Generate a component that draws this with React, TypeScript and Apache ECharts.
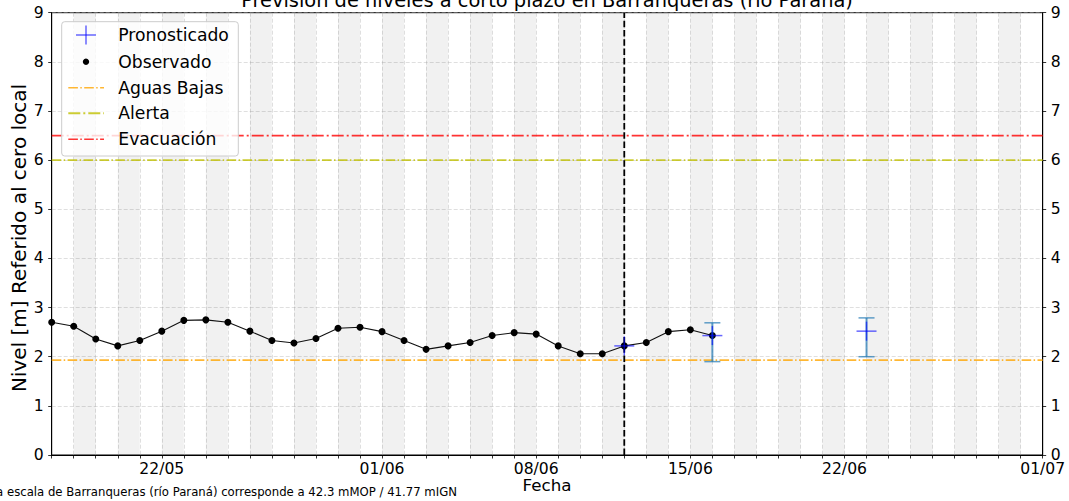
import React, { useEffect, useRef } from "react";
import * as echarts from "echarts";

const DAY = 86400000;
const YEAR = 2025;
const parseDate = (s: string): number => {
  const [d, m] = s.split("/").map(Number);
  return Date.UTC(YEAR, m - 1, d);
};
const fmtDate = (v: number): string => {
  const dt = new Date(v);
  const d = String(dt.getUTCDate()).padStart(2, "0");
  const m = String(dt.getUTCMonth() + 1).padStart(2, "0");
  return `${d}/${m}`;
};

// ---- data ----
const axisStart = "17/05";
const axisEnd = "01/07";
const xTickLabels = ["22/05", "01/06", "08/06", "15/06", "22/06", "01/07"];
const yTicks = [0, 1, 2, 3, 4, 5, 6, 7, 8, 9];

const observedDates = [
  "17/05", "18/05", "19/05", "20/05", "21/05", "22/05", "23/05", "24/05", "25/05", "26/05",
  "27/05", "28/05", "29/05", "30/05", "31/05", "01/06", "02/06", "03/06", "04/06", "05/06",
  "06/06", "07/06", "08/06", "09/06", "10/06", "11/06", "12/06", "13/06", "14/06", "15/06",
  "16/06",
];
const observedLevels = [
  2.70, 2.62, 2.36, 2.22, 2.33, 2.52, 2.74, 2.75, 2.70, 2.52,
  2.33, 2.28, 2.37, 2.58, 2.60, 2.51, 2.33, 2.15, 2.22, 2.29,
  2.43, 2.49, 2.46, 2.22, 2.06, 2.06, 2.22, 2.29, 2.51, 2.55,
  2.43,
];

const forecastDates = ["12/06", "16/06", "23/06"];
const forecastLevels = [2.22, 2.43, 2.52];
const forecastLow = [2.22, 1.90, 2.00];
const forecastHigh = [2.22, 2.69, 2.79];

const forecastIssueDate = "12/06";
const aguasBajas = 1.93;
const alerta = 6.0;
const evacuacion = 6.5;

const titleText = "Previsión de niveles a corto plazo en Barranqueras (río Paraná)";
const yAxisTitle = "Nivel [m] Referido al cero local";
const xAxisTitle = "Fecha";
const footnote = "El cero de la escala de Barranqueras (río Paraná) corresponde a 42.3 mMOP / 41.77 mIGN";
const legendItems = ["Pronosticado", "Observado", "Aguas Bajas", "Alerta", "Evacuación"];

// ---- styles ----
const FONT = "DejaVu Sans";
const C_ORANGE = "rgba(255,165,0,0.8)";
const C_YELLOW = "rgba(191,191,0,0.8)";
const C_RED = "rgba(255,0,0,0.8)";
const C_ERR = "rgba(31,119,180,0.7)";
const C_CROSS = "rgba(0,0,255,0.6)";
const DASHDOT = [9.6, 2.4, 1.5, 2.4];
const DASHDOT2 = [12, 3, 2, 3];

export default function App() {
  const ref = useRef<HTMLDivElement>(null);

  useEffect(() => {
    document.body.style.margin = "0";
    if (!ref.current) return;
    const chart = echarts.init(ref.current, undefined, { renderer: "svg" });

    const xMin = parseDate(axisStart);
    const xMax = parseDate(axisEnd);
    const nDays = Math.round((xMax - xMin) / DAY);
    const bandStarts: number[][] = [];
    for (let d = 1; d < nDays; d += 2) bandStarts.push([xMin + d * DAY, 0]);

    const hLine = (name: string, v: number, color: string, width: number, type: number[]) => ({
      name,
      type: "line",
      data: [[xMin, v], [xMax, v]],
      symbol: "none",
      silent: true,
      z: 3,
      lineStyle: { color, width, type },
    });

    const issue = parseDate(forecastIssueDate);

    // legend graphic
    const lgX = 61.7, lgY = 21.7, lgW = 176.6, lgH = 134.3;
    const rowY = [35, 61.7, 87.7, 113.3, 139.3];
    const iconC = 86, iconL = 68.3, iconR = 104;
    const legendGraphics: any[] = [
      {
        type: "rect",
        shape: { x: lgX, y: lgY, width: lgW, height: lgH, r: 3 },
        style: { fill: "rgba(255,255,255,0.8)", stroke: "#cccccc", lineWidth: 1 },
        z: 100,
      },
      { type: "line", shape: { x1: iconC - 10, y1: rowY[0], x2: iconC + 10, y2: rowY[0] }, style: { stroke: C_CROSS, lineWidth: 1.5 }, z: 101 },
      { type: "line", shape: { x1: iconC, y1: rowY[0] - 9.5, x2: iconC, y2: rowY[0] + 9.5 }, style: { stroke: C_CROSS, lineWidth: 1.5 }, z: 101 },
      { type: "circle", shape: { cx: iconC, cy: rowY[1], r: 3.2 }, style: { fill: "#000" }, z: 101 },
      { type: "line", shape: { x1: iconL, y1: rowY[2], x2: iconR, y2: rowY[2] }, style: { stroke: C_ORANGE, lineWidth: 1.5, lineDash: DASHDOT }, z: 101 },
      { type: "line", shape: { x1: iconL, y1: rowY[3], x2: iconR, y2: rowY[3] }, style: { stroke: C_YELLOW, lineWidth: 2, lineDash: DASHDOT2 }, z: 101 },
      { type: "line", shape: { x1: iconL, y1: rowY[4], x2: iconR, y2: rowY[4] }, style: { stroke: C_RED, lineWidth: 1.5, lineDash: DASHDOT }, z: 101 },
      ...legendItems.map((t, i) => ({
        type: "text",
        x: 118.3,
        y: rowY[i],
        style: { text: t, fontFamily: FONT, fontSize: 17.2, fill: "#000", textAlign: "left", textVerticalAlign: "middle" },
        z: 101,
      })),
    ];

    const option: any = {
      animation: false,
      textStyle: { fontFamily: FONT },
      grid: {
        left: 51.7,
        right: 26.3,
        top: 12.7,
        bottom: 46,
        show: true,
        borderColor: "#000",
        borderWidth: 1,
        backgroundColor: "transparent",
        containLabel: false,
      },
      xAxis: {
        type: "value",
        min: xMin,
        max: xMax,
        interval: DAY,
        axisLine: { show: true, onZero: false, lineStyle: { color: "#000", width: 1 } },
        axisTick: { show: true, length: 3.5, lineStyle: { color: "#000", width: 0.8 } },
        axisLabel: {
          show: true,
          showMinLabel: true,
          showMaxLabel: true,
          margin: 6,
          fontSize: 15.6,
          fontFamily: FONT,
          color: "#000",
          formatter: (v: number) => {
            const s = fmtDate(v);
            return xTickLabels.includes(s) ? s : "";
          },
        },
        splitLine: { show: true, lineStyle: { color: "rgba(176,176,176,0.5)", width: 0.8, type: [4, 2] } },
      },
      yAxis: [
        {
          type: "value",
          position: "left",
          min: yTicks[0],
          max: yTicks[yTicks.length - 1],
          interval: 1,
          axisLine: { show: true, lineStyle: { color: "#000", width: 1 } },
          axisTick: { show: true, length: 3.5, lineStyle: { color: "#000", width: 0.8 } },
          axisLabel: { margin: 8, fontSize: 15.6, fontFamily: FONT, color: "#000" },
          splitLine: { show: true, lineStyle: { color: "rgba(176,176,176,0.5)", width: 0.8, type: [4, 2] } },
        },
        {
          type: "value",
          position: "right",
          min: yTicks[0],
          max: yTicks[yTicks.length - 1],
          interval: 1,
          axisLine: { show: true, lineStyle: { color: "#000", width: 1 } },
          axisTick: { show: true, length: 3.5, lineStyle: { color: "#000", width: 0.8 } },
          axisLabel: { margin: 8, fontSize: 15.6, fontFamily: FONT, color: "#000" },
          splitLine: { show: false },
        },
      ],
      series: [
        {
          name: "bands",
          type: "custom",
          silent: true,
          z: 1,
          data: bandStarts,
          encode: { x: 0, y: 1 },
          renderItem: (params: any, api: any) => {
            const s = api.value(0);
            const p1 = api.coord([s, 9]);
            const p2 = api.coord([s + DAY, 0]);
            return {
              type: "rect",
              shape: { x: p1[0], y: p1[1], width: p2[0] - p1[0], height: p2[1] - p1[1] },
              style: { fill: "rgba(0,0,0,0.055)" },
            };
          },
        },
        hLine("Aguas Bajas", aguasBajas, C_ORANGE, 1.8, DASHDOT),
        hLine("Alerta", alerta, C_YELLOW, 1.8, DASHDOT),
        hLine("Evacuación", evacuacion, C_RED, 1.8, DASHDOT2),
        {
          name: "issue",
          type: "line",
          data: [[issue, 0], [issue, 9]],
          symbol: "none",
          silent: true,
          z: 4,
          lineStyle: { color: "#000", width: 1.8, type: [6.5, 2.8] },
        },
        {
          name: "Observado",
          type: "line",
          data: observedDates.map((d, i) => [parseDate(d), observedLevels[i]]),
          symbol: "circle",
          symbolSize: 7,
          z: 5,
          itemStyle: { color: "#000" },
          lineStyle: { color: "#111", width: 1.1 },
        },
        {
          name: "Pronosticado",
          type: "custom",
          z: 6,
          data: forecastDates.map((d, i) => [parseDate(d), forecastLevels[i], forecastLow[i], forecastHigh[i]]),
          encode: { x: 0, y: 1 },
          renderItem: (params: any, api: any) => {
            const x = api.value(0);
            const v = api.value(1);
            const lo = api.value(2);
            const hi = api.value(3);
            const c = api.coord([x, v]);
            const pl = api.coord([x, lo]);
            const ph = api.coord([x, hi]);
            const children: any[] = [];
            if (hi > lo) {
              children.push({ type: "line", shape: { x1: ph[0], y1: ph[1], x2: pl[0], y2: pl[1] }, style: { stroke: C_ERR, lineWidth: 2 } });
              children.push({ type: "line", shape: { x1: ph[0] - 8, y1: ph[1], x2: ph[0] + 8, y2: ph[1] }, style: { stroke: C_ERR, lineWidth: 1.5 } });
              children.push({ type: "line", shape: { x1: pl[0] - 8, y1: pl[1], x2: pl[0] + 8, y2: pl[1] }, style: { stroke: C_ERR, lineWidth: 1.5 } });
            }
            children.push({ type: "line", shape: { x1: c[0] - 10, y1: c[1], x2: c[0] + 10, y2: c[1] }, style: { stroke: C_CROSS, lineWidth: 1.5 } });
            children.push({ type: "line", shape: { x1: c[0], y1: c[1] - 9.5, x2: c[0], y2: c[1] + 9.5 }, style: { stroke: C_CROSS, lineWidth: 1.5 } });
            return { type: "group", children };
          },
        },
      ],
      graphic: [
        {
          type: "text",
          x: 547,
          y: 10,
          style: { text: titleText, fontFamily: FONT, fontSize: 19.4, fill: "#000", textAlign: "center", textVerticalAlign: "bottom" },
        },
        {
          type: "text",
          x: 18.5,
          y: 238,
          rotation: Math.PI / 2,
          style: { text: yAxisTitle, fontFamily: FONT, fontSize: 20, fill: "#000", textAlign: "center", textVerticalAlign: "middle" },
        },
        {
          type: "text",
          x: 547,
          y: 485,
          style: { text: xAxisTitle, fontFamily: FONT, fontSize: 16.7, fill: "#000", textAlign: "center", textVerticalAlign: "middle" },
        },
        {
          type: "text",
          x: 457,
          y: 492,
          style: { text: footnote, fontFamily: FONT, fontSize: 11.7, fill: "#000", textAlign: "right", textVerticalAlign: "middle" },
        },
        ...legendGraphics,
      ],
    };

    chart.setOption(option);
    return () => chart.dispose();
  }, []);

  return <div ref={ref} style={{ width: 1069, height: 501 }} />;
}
